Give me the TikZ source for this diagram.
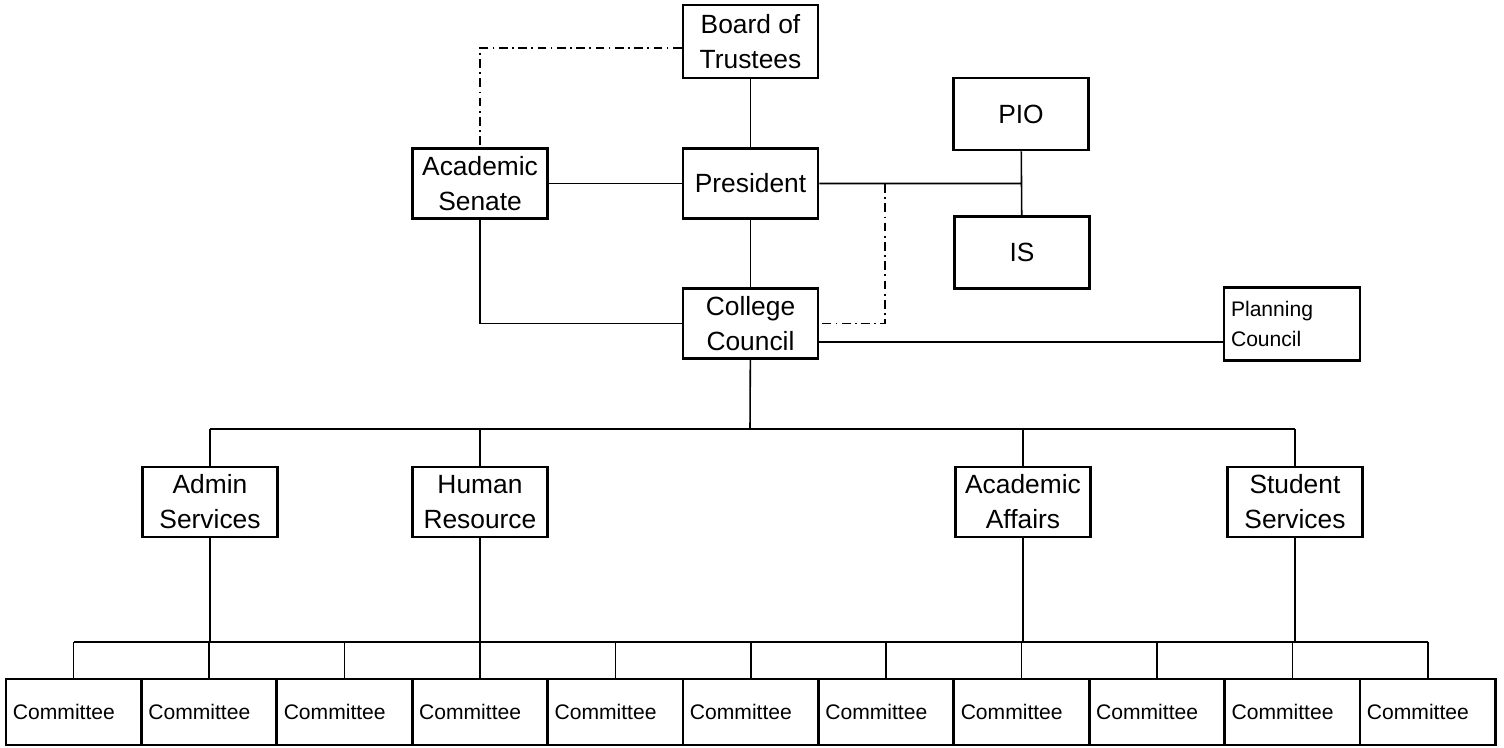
\documentclass[tikz,border=0pt]{standalone}
\usepackage{fontspec}
\setmainfont{Liberation Sans}
\usepackage{tikz}
\usetikzlibrary{positioning}

\tikzset{
  box/.style = {draw, line width=1.6pt, minimum width=2.7cm, minimum height=1.4cm,
    align=center, inner sep=1pt, font=\fontsize{15}{20}\selectfont},
  cbox/.style = {draw, line width=1.6pt, text width=2.43cm, inner xsep=0.14cm,
    minimum height=1.32cm, align=left, font=\fontsize{12}{17}\selectfont},
  link/.style = {line width=0.9pt},
  advisory/.style = {line width=0.9pt, dash pattern=on 5pt off 2.5pt on 1pt off 2.5pt}
}

\begin{document}
\begin{tikzpicture} [x=0.02cm, y=-0.02cm, node distance=2.84cm, on grid]

        \useasboundingbox (0,0) rectangle (1504,747);

        \node (board) [box, minimum height=1.46cm] at (750.5,41.5) {Board of\\Trustees};
        \node (pres) [box, below = of board] {President};
        \node (council) [box, below = 2.8cm of pres] {College\\Council};
        \node (senate) [box, left = 5.41cm of pres] {Academic\\Senate};
        \node (pio) [box, minimum height=1.44cm] at (1021,114) {PIO};
        \node (is) [box, minimum height=1.44cm] at (1022,252.5) {IS};
        \node (plan) [cbox, minimum height=1.46cm, text width=2.44cm] at (1292,324) {Planning\\Council};

        \node (admin) [box] at (210,502) {Admin\\Services};
        \node (hr) [box, right = 5.4cm of admin] {Human\\Resource};
        \node (acad) [box] at (1023,502) {Academic\\Affairs};
        \node (stud) [box, right = 5.44cm of acad] {Student\\Services};

        \foreach \i in {0,...,10}
          \node (c\i) [cbox] at ({73.7+135.4*\i},712) {Committee};

        \coordinate (top) at (750,429);
        \coordinate (low) at (750,642);
        \coordinate (split) at (885,184);

        \draw [link] (board) -- (pres) (pres) -- (council) (senate) -- (pres);
        \draw [link] (pres) -- (pres -| pio) (pio) -- (is);
        \draw [link] (senate.south) |- (council.west);
        \draw [link] ([yshift=-0.37cm]council.east) -- ([yshift=-0.37cm]council.east -| plan.west);
        \draw [advisory] ([yshift=-0.13cm]board.west) -| (senate.north);
        \draw [advisory] (split) |- (council.east);

        \draw [link] (council) -- (top) (admin.north |- top) -- (stud.north |- top);
        \foreach \d in {admin, hr, acad, stud}
          \draw [link] (\d.north) -- (\d.north |- top) (\d.south) -- (\d.south |- low);
        \draw [link] (c0.north |- low) -- (c10.north |- low);
        \foreach \i in {0,...,10}
          \draw [link] (c\i.north) -- (c\i.north |- low);

    \end{tikzpicture}
\end{document}
